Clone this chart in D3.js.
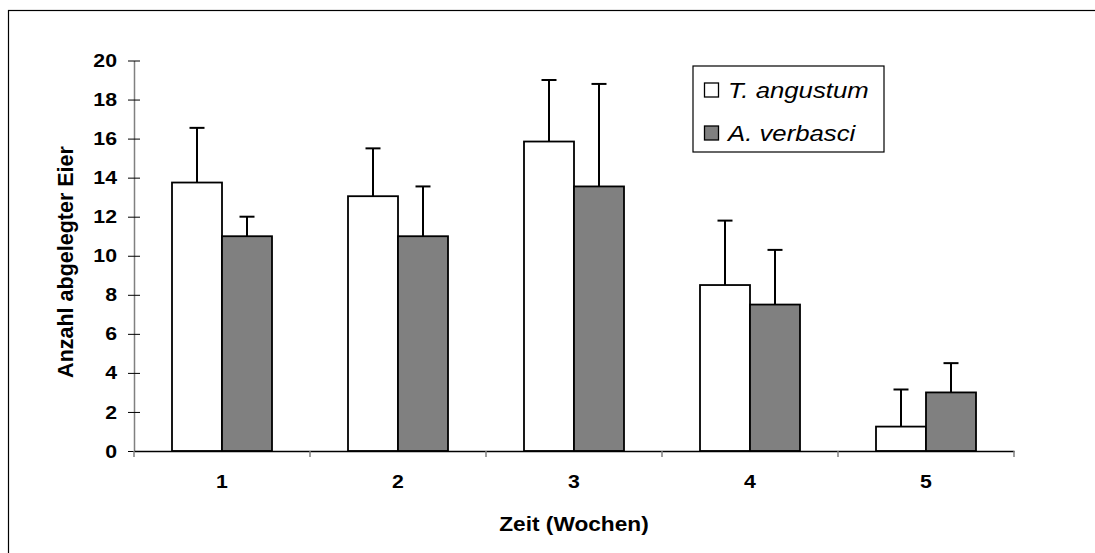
<!DOCTYPE html>
<html>
<head>
<meta charset="utf-8">
<script src="https://cdn.jsdelivr.net/npm/d3@7"></script>
<style>
	body { margin: 0; background: #fff; }
	text { font-family: Arial, "Liberation Sans", sans-serif; }
</style>
</head>
<body>
<div id="chart"></div>
<script>
// Daten
var weeks = ['1', '2', '3', '4', '5'];
var series_names = ['T. angustum', 'A. verbasci'];
var series_colors = ['#ffffff', '#808080'];
var angustum_mean = [13.75, 13.05, 15.85, 8.5, 1.25];
var angustum_err = [2.8, 2.45, 3.15, 3.3, 1.9];
var verbasci_mean = [11.0, 11.0, 13.55, 7.5, 3.0];
var verbasci_err = [1.0, 2.55, 5.25, 2.8, 1.5];
var y_ticks = [0, 2, 4, 6, 8, 10, 12, 14, 16, 18, 20];

var width = 1095;
var height = 553;
var plot_left = 134;
var plot_right = 1014;
var plot_top = 60.5;
var plot_bottom = 451;
var font = 'Arial, "Liberation Sans", sans-serif';

// the original's lettering is a bit wider than Arial
function stretch(sel, sx) {
	sel.each(function () {
		var t = d3.select(this);
		var x = +t.attr('x') || 0;
		var y = +t.attr('y') || 0;
		t.attr('transform', 'translate(' + x + ',' + y + ') scale(' + sx + ',1) translate(' + (-x) + ',' + (-y) + ')');
	});
}

var svg = d3.select('#chart').append('svg')
	.attr('width', width)
	.attr('height', height);

// outer frame (runs off the right and bottom edge)
svg.append('rect')
	.attr('x', 8.5)
	.attr('y', 10.5)
	.attr('width', width)
	.attr('height', height)
	.attr('fill', 'none')
	.attr('stroke', '#000')
	.attr('stroke-width', 1.2);

var xScale = d3.scaleBand()
	.domain(weeks)
	.range([plot_left, plot_right]);

var yScale = d3.scaleLinear()
	.domain([0, 20])
	.range([plot_bottom, plot_top]);

var bar_w = 50;

var data = weeks.map(function (w, i) {
	return [
		{week: w, s: 0, v: angustum_mean[i], e: angustum_err[i]},
		{week: w, s: 1, v: verbasci_mean[i], e: verbasci_err[i]}
	];
});

function barX(d) {
	var c = xScale(d.week) + xScale.bandwidth() / 2;
	return d.s == 0 ? c - bar_w : c;
}

var groups = svg.selectAll('g.week').data(data).enter().append('g').attr('class', 'week');

// error bars first (behind the bars)
groups.selectAll('g.err').data(function (d) { return d; }).enter().append('g')
	.attr('class', 'err')
	.each(function (d) {
		var g = d3.select(this);
		var cx = barX(d) + bar_w / 2;
		g.append('line')
			.attr('x1', cx).attr('x2', cx)
			.attr('y1', yScale(d.v)).attr('y2', yScale(d.v + d.e))
			.attr('stroke', '#000').attr('stroke-width', 2);
		g.append('line')
			.attr('x1', cx - 7.5).attr('x2', cx + 7.5)
			.attr('y1', yScale(d.v + d.e)).attr('y2', yScale(d.v + d.e))
			.attr('stroke', '#000').attr('stroke-width', 2);
	});

groups.selectAll('rect').data(function (d) { return d; }).enter().append('rect')
	.attr('x', barX)
	.attr('y', function (d) { return yScale(d.v); })
	.attr('width', bar_w)
	.attr('height', function (d) { return yScale(0) - yScale(d.v); })
	.attr('fill', function (d) { return series_colors[d.s]; })
	.attr('stroke', '#000')
	.attr('stroke-width', 1.8);

// y axis
var yAxis = d3.axisLeft(yScale).tickValues(y_ticks).tickSize(0).tickPadding(17);
var yg = svg.append('g')
	.attr('transform', 'translate(' + plot_left + ',0)')
	.call(yAxis);
yg.select('.domain').attr('stroke', '#808080').attr('stroke-width', 1.5);
yg.selectAll('.tick text')
	.attr('font-size', 19).attr('font-weight', 'bold').attr('fill', '#000')
	.attr('font-family', font)
	.call(stretch, 1.12);
yg.selectAll('.tick').append('line')
	.attr('x1', -6).attr('x2', 6)
	.attr('stroke', '#000').attr('stroke-width', 1);

// x axis
var xAxis = d3.axisBottom(xScale).tickSize(0).tickPadding(24);
var xg = svg.append('g')
	.attr('transform', 'translate(0,' + plot_bottom + ')')
	.call(xAxis);
xg.select('.domain').attr('stroke', '#000').attr('stroke-width', 1.5);
xg.selectAll('.tick text')
	.attr('font-size', 19).attr('font-weight', 'bold').attr('fill', '#000')
	.attr('font-family', font)
	.call(stretch, 1.12);
// separators between weeks
var sep = [plot_left].concat(weeks.slice(1).map(function (w) { return xScale(w); })).concat([plot_right]);
xg.selectAll('line.sep').data(sep).enter().append('line')
	.attr('class', 'sep')
	.attr('x1', function (d) { return d; }).attr('x2', function (d) { return d; })
	.attr('y1', 0).attr('y2', 6)
	.attr('stroke', '#808080').attr('stroke-width', 1.5);

// axis titles
svg.append('text')
	.attr('x', (plot_left + plot_right) / 2)
	.attr('y', 531)
	.attr('text-anchor', 'middle')
	.attr('font-size', 21).attr('font-weight', 'bold')
	.text('Zeit (Wochen)')
	.call(stretch, 1.08);

svg.append('text')
	.attr('transform', 'translate(73,' + 262 + ') rotate(-90)')
	.attr('text-anchor', 'middle')
	.attr('font-size', 21.5).attr('font-weight', 'bold')
	.text('Anzahl abgelegter Eier');

// legend
var legend = svg.append('g').attr('transform', 'translate(693,66)');
legend.append('rect')
	.attr('width', 191).attr('height', 86)
	.attr('fill', '#fff').attr('stroke', '#000').attr('stroke-width', 1.2);
var items = legend.selectAll('g.item').data(series_names).enter().append('g')
	.attr('class', 'item')
	.attr('transform', function (d, i) { return 'translate(0,' + (24 + i * 43) + ')'; });
items.append('rect')
	.attr('x', 11.5).attr('y', -7)
	.attr('width', 14).attr('height', 14)
	.attr('fill', function (d, i) { return series_colors[i]; })
	.attr('stroke', '#000').attr('stroke-width', 1.3);
items.append('text')
	.attr('x', 35).attr('y', 7.5)
	.attr('font-size', 22).attr('font-style', 'italic')
	.text(function (d) { return d; })
	.call(stretch, 1.17);
</script>
</body>
</html>
